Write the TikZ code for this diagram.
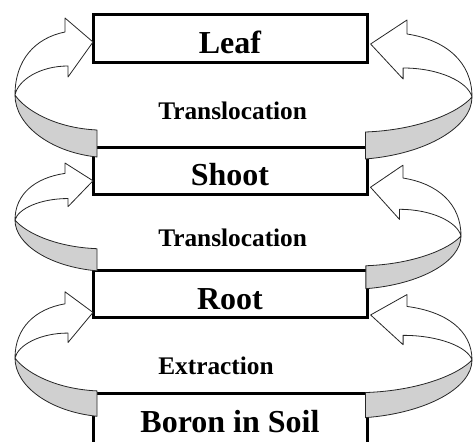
\documentclass[tikz,border=0pt]{standalone}
\usepackage{fontspec}
\setmainfont{Liberation Serif}
\usepackage{tikz}
\usetikzlibrary{calc}
\definecolor{BandGray}{RGB}{208,208,208}
\tikzset{
	stage/.style={draw=black, line width=2.25pt, fill=white, inner sep=0pt,
		minimum width=205.5pt, minimum height=35.6pt, text height=22.5pt, text depth=0pt,
		font=\fontsize{24pt}{28pt}\selectfont\bfseries},
	step label/.style={anchor=base west, inner sep=0pt,
		font=\fontsize{19pt}{22pt}\selectfont\bfseries},
	band back/.style={draw=black!85, fill=BandGray, line width=0.6pt, line join=round},
	band front/.style={draw=black!85, fill=white, line width=0.6pt, line join=round}
}
% curved block arrow, turning round at the pin
\newcommand{\TwistArrow}[4][1]{
	\def\lscale{#1}
	\def\lpin{#2}
	\def\lup{#3}
	\def\llow{#4}
	\begin{scope}[shift={(\lpin)}, xscale=\lscale]
		\begin{scope}[yscale=\llow]
			\filldraw[band back] (0,0) .. controls (0,30) and (35,57) .. (82,62) -- (82,35) .. controls (40,33) and (10,15) .. (0,0) -- cycle;
		\end{scope}
		\begin{scope}[yscale=\lup]
			\filldraw[band front] (0,0) .. controls (0,-35) and (20,-57) .. (50,-63) -- (50,-77) -- (78,-53) -- (53,-18) -- (53,-29) .. controls (25,-29) and (3,-15) .. (0,0) -- cycle;
		\end{scope}
	\end{scope}
}
\begin{document}
\begin{tikzpicture}[x=0.75pt, y=-0.75pt, line cap=round]
	\useasboundingbox (0,0) rectangle (475,442);
	\clip (0,0) rectangle (475,442);

	\coordinate (L1) at (15,95);
	\coordinate (L2) at (15,220);
	\coordinate (L3) at (15,358);
	\coordinate (R1) at (472,97);
	\coordinate (R2) at (461,236);
	\coordinate (R3) at (472,360);

	\node[stage] (leaf) at (230,38.5) {Leaf};
	\node[stage] (shoot) at (230,171) {Shoot};
	\node[stage] (root) at (230,294) {Root};
	\node[stage, minimum height=42pt, text height=16.5pt] (soil) at (230,421) {Boron in Soil};

	\TwistArrow{L1}{1}{1}
	\TwistArrow{L2}{0.74}{0.82}
	\TwistArrow{L3}{0.86}{0.94}
	\TwistArrow[-1.3]{R1}{1}{1}
	\TwistArrow[-1.16]{R2}{0.92}{0.85}
	\TwistArrow[-1.3]{R3}{0.85}{0.93}

	\node[step label] (trans1) at (158,120) {Translocation};
	\node[step label] (trans2) at (158,247) {Translocation};
	\node[step label] (extract) at (158,374) {Extraction};

\end{tikzpicture}
\end{document}
